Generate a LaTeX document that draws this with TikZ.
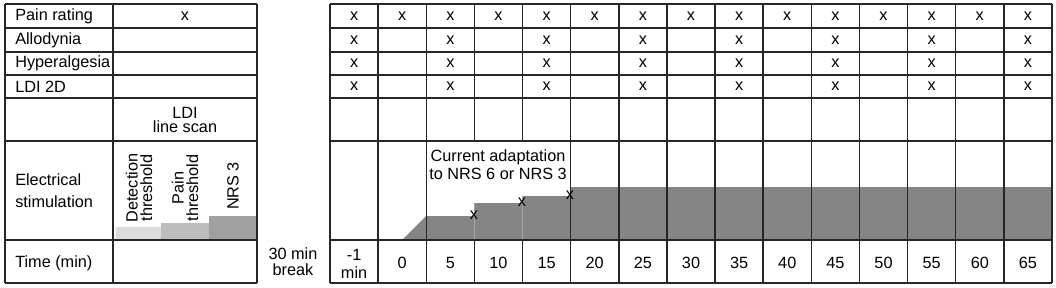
\documentclass[tikz,border=0pt]{standalone}
\usepackage{fontspec}
\setmainfont{Liberation Sans}
\usetikzlibrary{positioning}

\definecolor{detgray}{HTML}{DCDCDC}
\definecolor{paingray}{HTML}{BDBDBD}
\definecolor{nrsgray}{HTML}{A0A0A0}
\definecolor{stimgray}{HTML}{858585}

\begin{document}
\begin{tikzpicture}[
    x=0.75pt, y=-0.75pt,
    grid/.style={line width=1.1pt, black!85},
    seam/.style={line width=0.5pt, black!35},
    lbl/.style={inner sep=0pt, font=\fontsize{12.2}{14}\selectfont},
    rowlbl/.style={lbl, anchor=west, align=left},
    xmark/.style={lbl},
    vlbl/.style={lbl, rotate=90, align=center, font=\fontsize{12.2}{10.8}\selectfont}
]
    \useasboundingbox (0,0) rectangle (1056,287);

    % stimulation levels
    \fill[detgray] (116,227) rectangle (161,240);
    \fill[paingray] (161,223) rectangle (209,240);
    \fill[nrsgray] (209,216) rectangle (257,240);
    \fill[stimgray] (402,240) -- (426,216) -- (474,216) -- (474,203) -- (522,203)
        -- (522,196) -- (570,196) -- (570,187) -- (1052,187) -- (1052,240) -- cycle;
    \draw[seam] (474,203) -- (474,240);
    \draw[seam] (522,196) -- (522,240);

    % grid lines
    \foreach \y in {4,28,52,75,98,141,240,283} {
        \draw[grid] (5,\y) -- (257,\y);
        \draw[grid] (330,\y) -- (1052,\y);
    }
    \foreach \x in {5,113,257}
        \draw[grid] (\x,4) -- (\x,283);
    \foreach \k in {0,...,15} {
        \draw[grid] ({330+48.133*\k},4) -- ({330+48.133*\k},141);
        \draw[grid] ({330+48.133*\k},240) -- ({330+48.133*\k},283);
    }
    \foreach \k in {0,1,2,5,6,...,15}
        \draw[grid] ({330+48.133*\k},141) -- ({330+48.133*\k},240);

    % row labels
    \node[rowlbl] (pain) at (15,16) {Pain rating};
    \node[rowlbl] (allo) at (15,40) {Allodynia};
    \node[rowlbl] (hyper) at (15,63.5) {Hyperalgesia};
    \node[rowlbl] (ldi) at (15,86.5) {LDI 2D};
    \node[rowlbl, font=\fontsize{12.2}{16.5}\selectfont] (elec) at (15,191) {Electrical\\stimulation};
    \node[rowlbl] (time) at (15,263) {Time (min)};

    % baseline block
    \node[xmark] (pain-base) at (185,16) {x};
    \node[lbl, align=center, font=\fontsize{12.2}{10.8}\selectfont] (scan) at (185,120) {LDI\\line scan};
    \node[vlbl] (det) at (139,188) {Detection\\threshold};
    \node[vlbl] (thr) at (185,188) {Pain\\threshold};
    \node[vlbl] (nrs) at (233,186) {NRS 3};
    \node[lbl, align=center, font=\fontsize{12.2}{12}\selectfont] (break) at (293,262) {30 min\\break};

    % measurements
    \foreach \k in {0,...,14}
        \node[xmark] (pr-\k) at ({330+48.133*(\k+0.5)},16) {x};
    \foreach \k in {0,2,...,14} {
        \node[xmark] (al-\k) at ({330+48.133*(\k+0.5)},40) {x};
        \node[xmark] (hy-\k) at ({330+48.133*(\k+0.5)},63.5) {x};
        \node[xmark] (ld-\k) at ({330+48.133*(\k+0.5)},86.5) {x};
    }

    % time axis
    \node[lbl, align=center, font=\fontsize{12.2}{13}\selectfont] (t-pre) at ({330+48.133*0.5},264) {-1\\min};
    \foreach \t [count=\k from 1] in {0,5,...,65}
        \node[lbl] (t-\t) at ({330+48.133*(\k+0.5)},263) {\t};

    % adaptation
    \node[lbl, align=center, font=\fontsize{12.2}{13.5}\selectfont] (adapt) at (498,165) {Current adaptation\\to NRS 6 or NRS 3};
    \node[xmark] (step-1) at (474,215) {x};
    \node[xmark] (step-2) at (522,202) {x};
    \node[xmark] (step-3) at (570,195) {x};
\end{tikzpicture}
\end{document}
